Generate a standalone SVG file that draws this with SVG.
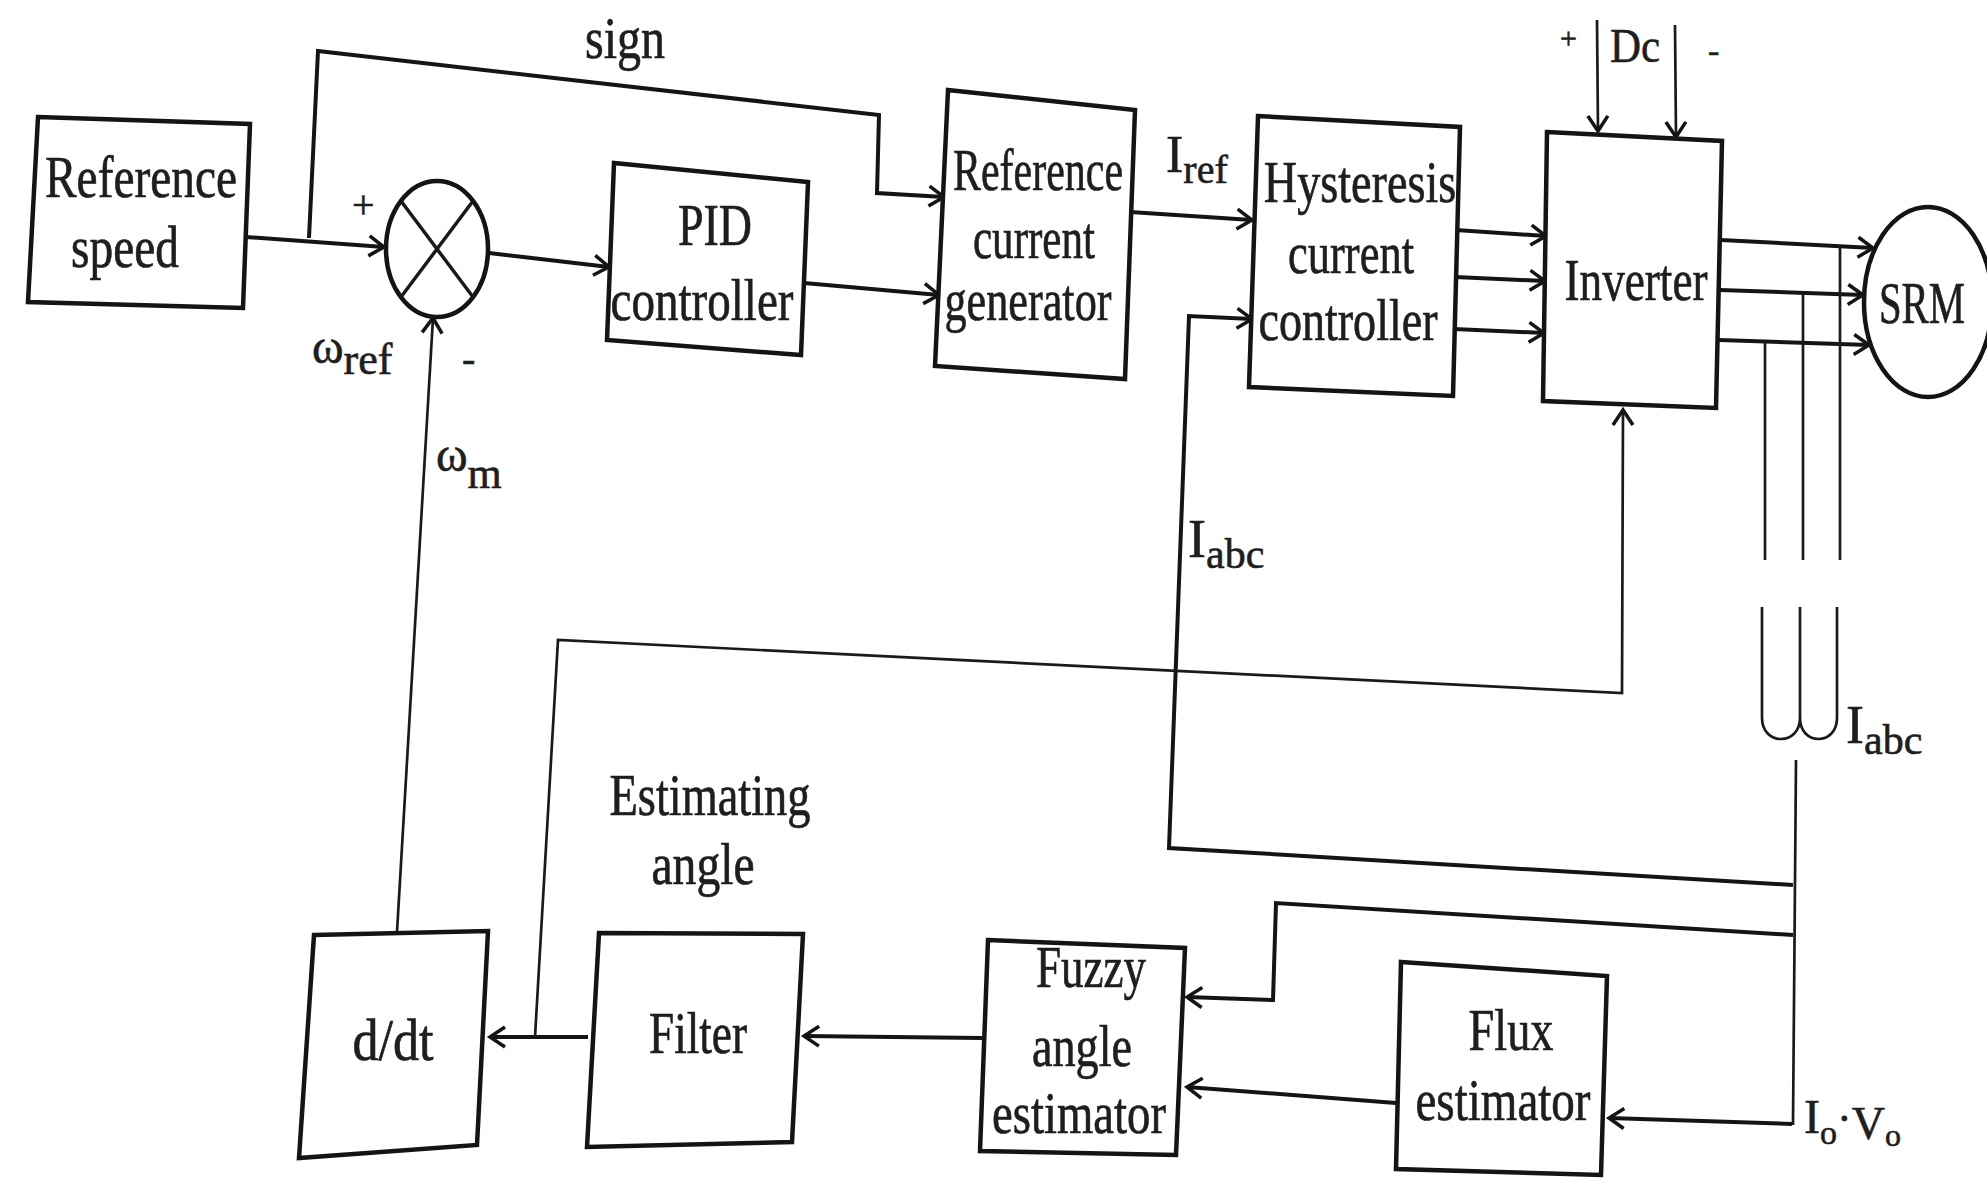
<svg xmlns="http://www.w3.org/2000/svg" width="1987" height="1178" viewBox="0 0 1987 1178">
<defs>
<style>
.box{fill:#fff;stroke:#141414;stroke-width:4.5;stroke-linejoin:miter}
.ln{fill:none;stroke:#141414;stroke-width:4;stroke-linejoin:miter}
.thin{fill:none;stroke:#1a1a1a;stroke-width:2.7}
.t{font-family:"Liberation Serif","Times New Roman",serif;font-size:60px;fill:#1e1e1e;stroke:#1e1e1e;stroke-width:0.7;text-anchor:middle}
.l{font-family:"Liberation Serif","Times New Roman",serif;fill:#1e1e1e;stroke:#1e1e1e;stroke-width:0.6}
</style>
<marker id="arr" viewBox="-18 -12 20 24" refX="0" refY="0" markerWidth="20" markerHeight="24" markerUnits="userSpaceOnUse" orient="auto" overflow="visible">
<path d="M-15,-10 L0,0 L-15,10" fill="none" stroke="#141414" stroke-width="3.5"/>
</marker>
</defs>
<rect x="0" y="0" width="1987" height="1178" fill="#fff"/>

<g id="connectors">
<path class="ln" d="M246,237 L384,247" marker-end="url(#arr)"/>
<path class="ln" d="M309,238 L318,51 L879,115 L877,193 L944,197" marker-end="url(#arr)"/>
<path class="ln" d="M489,253 L609,267" marker-end="url(#arr)"/>
<path class="ln" d="M804,283 L939,295" marker-end="url(#arr)"/>
<path class="ln" d="M1130,212 L1252,220" marker-end="url(#arr)"/>
<path class="ln" d="M1456,230 L1546,236" marker-end="url(#arr)"/>
<path class="ln" d="M1455,277 L1545,281" marker-end="url(#arr)"/>
<path class="ln" d="M1454,329 L1544,333" marker-end="url(#arr)"/>
<path class="thin" d="M1597,20 L1598,131" marker-end="url(#arr)"/>
<path class="thin" d="M1675,25 L1676,137" marker-end="url(#arr)"/>
<path class="ln" d="M1721,240 L1873,248" marker-end="url(#arr)"/>
<path class="ln" d="M1720,290 L1863,295" marker-end="url(#arr)"/>
<path class="ln" d="M1719,340 L1869,345" marker-end="url(#arr)"/>
<path class="thin" d="M1840,246 L1840,560 M1803,294 L1803,560 M1765,343 L1765,560"/>
<path class="thin" d="M1762,607 V718 C1762,746 1800,746 1800,718 C1800,746 1837,746 1837,718 V607 M1800,718 V607"/>
<path class="thin" d="M1796,760 L1793,1125"/>
<path class="ln" d="M1793,885 L1169,848 L1189,316 L1252,319" marker-end="url(#arr)"/>
<path class="ln" d="M1793,935 L1276,903 L1273,1000 L1187,997" marker-end="url(#arr)"/>
<path class="ln" d="M1792,1124 L1609,1118" marker-end="url(#arr)"/>
<path class="ln" d="M1396,1103 L1187,1087" marker-end="url(#arr)"/>
<path class="ln" d="M982,1038 L804,1036" marker-end="url(#arr)"/>
<path class="ln" d="M588,1037 L490,1037" marker-end="url(#arr)"/>
<path class="thin" d="M535,1037 L558,640 L1622,693 L1623,410" marker-end="url(#arr)"/>
<path class="thin" d="M397,932 L433,318" marker-end="url(#arr)"/>
</g>

<g id="ref_speed">
<polygon class="box" points="38,117 250,124 243,308 28,302"/>
<text class="t" x="141" y="197" textLength="192" lengthAdjust="spacingAndGlyphs">Reference</text>
<text class="t" x="125" y="267" textLength="108" lengthAdjust="spacingAndGlyphs">speed</text>
</g>

<g id="sum">
<ellipse class="box" cx="437" cy="249" rx="51" ry="68"/>
<path class="thin" d="M401,201 L473,297 M473,201 L401,297" style="stroke-width:3.5"/>
</g>

<g id="pid">
<polygon class="box" points="614,163 808,182 801,355 607,340"/>
<text class="t" x="715" y="245" textLength="74" lengthAdjust="spacingAndGlyphs">PID</text>
<text class="t" x="702" y="320" textLength="183" lengthAdjust="spacingAndGlyphs">controller</text>
</g>

<g id="ref_current_gen">
<polygon class="box" points="948,90 1135,110 1125,379 935,366"/>
<text class="t" transform="translate(1038,190) scale(0.70,1)" x="0" y="0">Reference</text>
<text class="t" x="1034" y="258" textLength="122" lengthAdjust="spacingAndGlyphs">current</text>
<text class="t" x="1028" y="320" textLength="167" lengthAdjust="spacingAndGlyphs">generator</text>
</g>

<g id="hysteresis">
<polygon class="box" points="1258,116 1460,127 1453,396 1249,387"/>
<text class="t" transform="translate(1360,202) scale(0.77,1)" x="0" y="0">Hysteresis</text>
<text class="t" x="1351" y="273" textLength="126" lengthAdjust="spacingAndGlyphs">current</text>
<text class="t" x="1348" y="340" textLength="179" lengthAdjust="spacingAndGlyphs">controller</text>
</g>

<g id="inverter">
<polygon class="box" points="1547,132 1722,141 1716,408 1543,401"/>
<text class="t" x="1636" y="300" textLength="143" lengthAdjust="spacingAndGlyphs">Inverter</text>
</g>

<g id="srm">
<ellipse class="box" cx="1928" cy="302" rx="64" ry="95"/>
<text class="t" transform="translate(1922,323) scale(0.68,1)" x="0" y="0">SRM</text>
</g>

<g id="ddt">
<polygon class="box" points="314,935 488,931 477,1145 299,1158"/>
<text class="t" x="393" y="1060" textLength="81" lengthAdjust="spacingAndGlyphs">d/dt</text>
</g>

<g id="filter">
<polygon class="box" points="599,933 803,934 792,1142 587,1147"/>
<text class="t" x="698" y="1053" textLength="98" lengthAdjust="spacingAndGlyphs">Filter</text>
</g>

<g id="fuzzy">
<polygon class="box" points="988,940 1185,948 1176,1155 980,1151"/>
<text class="t" x="1091" y="987" textLength="110" lengthAdjust="spacingAndGlyphs">Fuzzy</text>
<text class="t" x="1082" y="1066" textLength="100" lengthAdjust="spacingAndGlyphs">angle</text>
<text class="t" x="1079" y="1133" textLength="174" lengthAdjust="spacingAndGlyphs">estimator</text>
</g>

<g id="flux">
<polygon class="box" points="1401,962 1607,976 1601,1175 1396,1169"/>
<text class="t" x="1511" y="1050" textLength="85" lengthAdjust="spacingAndGlyphs">Flux</text>
<text class="t" x="1503" y="1120" textLength="175" lengthAdjust="spacingAndGlyphs">estimator</text>
</g>

<g id="labels">
<text class="t" x="625" y="58" textLength="80" lengthAdjust="spacingAndGlyphs">sign</text>
<text class="l" x="352" y="218" font-size="40">+</text>
<text class="l" x="462" y="372" font-size="40">-</text>
<text class="l" x="312" y="363"><tspan font-size="48">ω</tspan><tspan font-size="44" dy="11">ref</tspan></text>
<text class="l" x="436" y="471"><tspan font-size="48">ω</tspan><tspan font-size="44" dy="17">m</tspan></text>
<text class="l" x="1166" y="172"><tspan font-size="52">I</tspan><tspan font-size="40" dy="11">ref</tspan></text>
<text class="l" x="1188" y="557"><tspan font-size="54">I</tspan><tspan font-size="42" dy="11">abc</tspan></text>
<text class="l" x="1846" y="743"><tspan font-size="54">I</tspan><tspan font-size="42" dy="11">abc</tspan></text>
<text class="t" x="710" y="815" textLength="201" lengthAdjust="spacingAndGlyphs">Estimating</text>
<text class="t" x="703" y="884" textLength="103" lengthAdjust="spacingAndGlyphs">angle</text>
<text class="l" x="1610" y="62" font-size="48" textLength="50" lengthAdjust="spacingAndGlyphs">Dc</text>
<text class="l" x="1560" y="48" font-size="30">+</text>
<text class="l" x="1708" y="62" font-size="34">-</text>
<text class="l" x="1804" y="1133"><tspan font-size="48">I</tspan><tspan font-size="34" dy="11">o</tspan><tspan font-size="44" dy="-11">·</tspan><tspan font-size="46" dy="6">V</tspan><tspan font-size="32" dy="7">o</tspan></text>
</g>
</svg>
